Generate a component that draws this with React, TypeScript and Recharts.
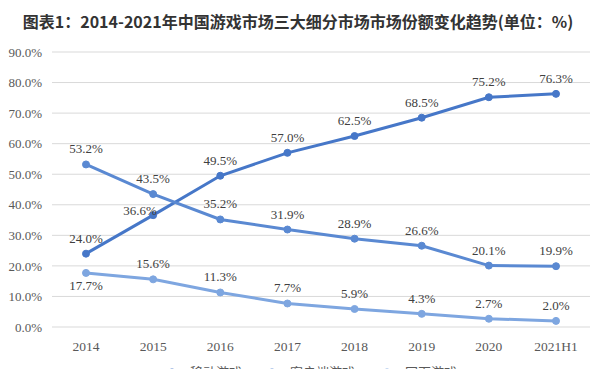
import React from 'react';
import { LineChart, Line, XAxis, YAxis, CartesianGrid, LabelList } from 'recharts';

const years = ['2014', '2015', '2016', '2017', '2018', '2019', '2020', '2021H1'];
const mobileShare = [24.0, 36.6, 49.5, 57.0, 62.5, 68.5, 75.2, 76.3];
const clientShare = [53.2, 43.5, 35.2, 31.9, 28.9, 26.6, 20.1, 19.9];
const webShare = [17.7, 15.6, 11.3, 7.7, 5.9, 4.3, 2.7, 2.0];
const yTicks = [0, 10, 20, 30, 40, 50, 60, 70, 80, 90];

const seriesNames = ['移动游戏', '客户端游戏', '网页游戏'];
const seriesColors = ['#4677c8', '#5a89d2', '#7ea6e0'];

const data = years.map((year, i) => ({
  year,
  mobile: mobileShare[i],
  client: clientShare[i],
  web: webShare[i],
}));

const labelFont = '"Liberation Serif", "Times New Roman", serif';

// data label: above the point by default, a couple moved like in the source
const makeLabel = (key: string) => (props: any) => {
  const { x, y, value, index } = props;
  let dx = 0;
  let dy = -11;
  if (key === 'web' && index === 0) {
    dy = 17;
  }
  if (key === 'mobile' && index === 1) {
    dx = -13;
    dy = 0;
  }
  return (
    <text
      x={x + dx}
      y={y + dy}
      textAnchor="middle"
      fill="#404040"
      fontSize={13}
      fontFamily={labelFont}
    >
      {`${Number(value).toFixed(1)}%`}
    </text>
  );
};

const App: React.FC = () => {
  return (
    <div
      style={{
        position: 'absolute',
        left: 0,
        top: 0,
        width: 596,
        height: 369,
        background: '#fff',
        overflow: 'hidden',
      }}
    >
      <div
        style={{
          position: 'absolute',
          left: 0,
          top: 9,
          width: 596,
          textAlign: 'center',
          fontFamily: '"Noto Sans CJK SC", sans-serif',
          fontWeight: 700,
          fontSize: 16,
          color: '#333',
          whiteSpace: 'nowrap',
        }}
      >
        图表1：2014-2021年中国游戏市场三大细分市场市场份额变化趋势(单位：%)
      </div>
      <div style={{ position: 'absolute', left: 0, top: 0 }}>
        <LineChart
          width={596}
          height={369}
          data={data}
          margin={{ top: 52, right: 6, bottom: 17, left: 0 }}
        >
          <CartesianGrid vertical={false} stroke="#d9d9d9" />
          <XAxis
            dataKey="year"
            axisLine={false}
            tickLine={false}
            height={25}
            tickMargin={8}
            padding={{ left: 34, right: 34 }}
            tick={{ fill: '#595959', fontSize: 13.5, fontFamily: labelFont }}
          />
          <YAxis
            width={52}
            domain={[0, 90]}
            ticks={yTicks}
            axisLine={false}
            tickLine={false}
            tickMargin={4}
            tickFormatter={(v: number) => `${v.toFixed(1)}%`}
            tick={{ fill: '#595959', fontSize: 13, fontFamily: labelFont }}
          />
          <Line
            dataKey="mobile"
            stroke={seriesColors[0]}
            strokeWidth={3}
            dot={{ r: 3.5, fill: seriesColors[0], stroke: seriesColors[0], strokeWidth: 1 }}
            isAnimationActive={false}
          >
            <LabelList dataKey="mobile" content={makeLabel('mobile')} />
          </Line>
          <Line
            dataKey="client"
            stroke={seriesColors[1]}
            strokeWidth={3}
            dot={{ r: 3.5, fill: seriesColors[1], stroke: seriesColors[1], strokeWidth: 1 }}
            isAnimationActive={false}
          >
            <LabelList dataKey="client" content={makeLabel('client')} />
          </Line>
          <Line
            dataKey="web"
            stroke={seriesColors[2]}
            strokeWidth={3}
            dot={{ r: 3.5, fill: seriesColors[2], stroke: seriesColors[2], strokeWidth: 1 }}
            isAnimationActive={false}
          >
            <LabelList dataKey="web" content={makeLabel('web')} />
          </Line>
        </LineChart>
      </div>
      {/* legend sits at the bottom edge, mostly cut off like the source */}
      {seriesNames.map((name, i) => (
        <div
          key={name}
          style={{
            position: 'absolute',
            top: 362,
            left: [160, 260, 375][i],
            display: 'flex',
            alignItems: 'center',
            fontFamily: '"Noto Sans CJK SC", sans-serif',
            fontSize: 13,
            color: '#595959',
            whiteSpace: 'nowrap',
          }}
        >
          <svg width={24} height={10} style={{ marginRight: 6 }}>
            <line x1={0} y1={5} x2={24} y2={5} stroke={seriesColors[i]} strokeWidth={3} />
            <circle cx={12} cy={5} r={3.5} fill={seriesColors[i]} />
          </svg>
          {name}
        </div>
      ))}
    </div>
  );
};

export default App;
